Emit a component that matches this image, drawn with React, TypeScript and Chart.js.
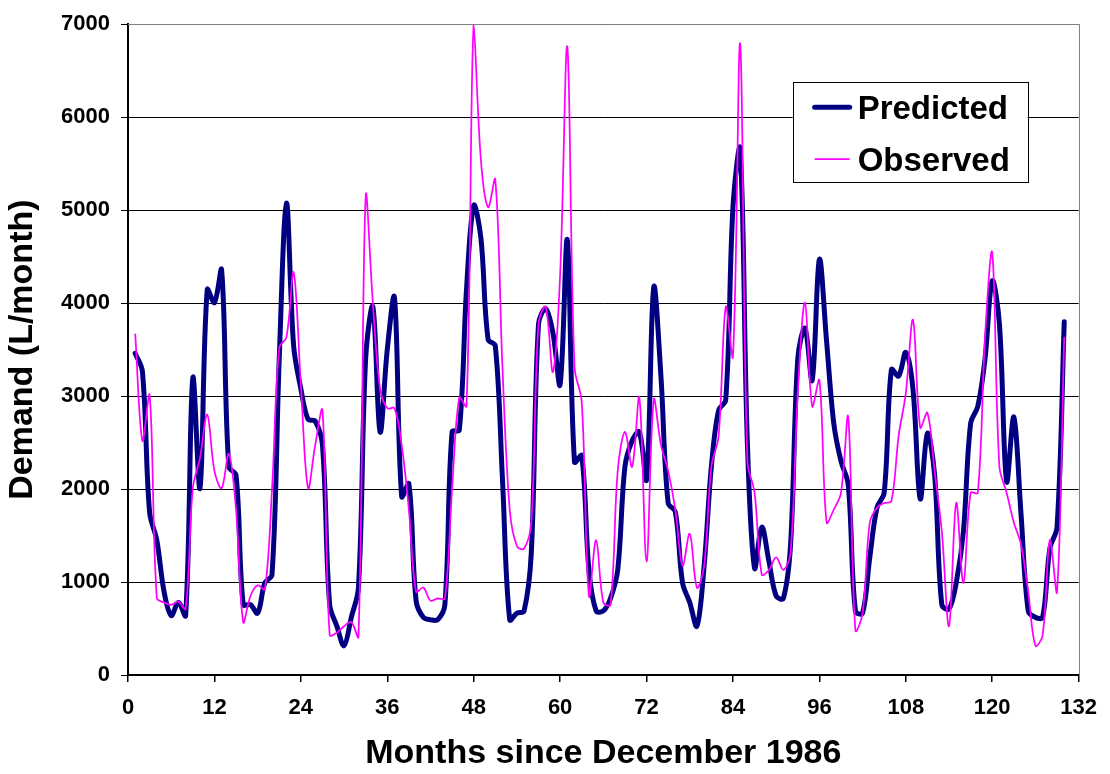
import React, { useEffect, useRef } from "react";
import { Chart, registerables } from "chart.js";

Chart.register(...registerables);

// Predicted demand, months 1..130 (L/month)
const predicted: number[] = [
  3460, 3265, 1750, 1450, 900, 640, 780, 640, 3195, 2010,
  4145, 4005, 4355, 2240, 2150, 757, 757, 665, 990, 1080,
  3400, 5075, 3540, 3080, 2750, 2730, 2475, 757, 525, 315,
  617, 940, 3400, 3960, 2615, 3500, 4060, 1920, 2055, 800,
  620, 595, 595, 755, 2615, 2635, 4145, 5050, 4700, 3610,
  3540, 2100, 595, 665, 690, 1315, 3775, 3940, 3680, 3125,
  4680, 2290, 2360, 1130, 690, 690, 825, 1130, 2240, 2520,
  2615, 2105, 4170, 3215, 1850, 1755, 990, 780, 525, 1175,
  2240, 2845, 2960, 5030, 5655, 2500, 1150, 1590, 1220, 850,
  825, 1405, 3400, 3730, 3170, 4470, 3590, 2705, 2300, 2050,
  690, 665, 1265, 1800, 1960, 3285, 3215, 3470, 3070, 1895,
  2600, 2150, 757, 710, 990, 1545, 2705, 2890, 3400, 4240,
  3775, 2080, 2775, 1730, 690, 620, 620, 1360, 1590, 3800,
];

// Observed demand, months 1..130 (L/month)
const observed: number[] = [
  3670, 2520, 3010, 830, 780, 755, 790, 710, 2010, 2335,
  2800, 2195, 2010, 2380, 1780, 570, 850, 965, 920, 2000,
  3520, 3635, 4330, 3125, 2010, 2475, 2845, 430, 455, 525,
  570, 410, 5145, 4000, 3080, 2870, 2870, 2475, 1780, 895,
  940, 800, 825, 825, 2000, 2985, 2890, 7000, 5540, 5030,
  5330, 3300, 1780, 1385, 1360, 1640, 3775, 3960, 3260, 4300,
  6755, 3310, 2940, 850, 1450, 780, 755, 2195, 2615, 2240,
  2985, 1220, 2960, 2475, 2195, 1780, 1175, 1520, 940, 1175,
  2240, 2565, 3960, 3425, 6790, 2300, 1960, 1080, 1130, 1265,
  1130, 1315, 3030, 4005, 2890, 3170, 1640, 1780, 1960, 2775,
  480, 665, 1640, 1800, 1850, 1870, 2570, 3030, 3820, 2660,
  2820, 2195, 1545, 525, 1850, 990, 1960, 1960, 3635, 4540,
  2240, 1960, 1640, 1405, 895, 315, 430, 1450, 895, 3635,
];

const months: number[] = predicted.map((_, i) => i + 1);

const seriesLabels = ["Predicted", "Observed"];
const seriesColors = ["#000080", "#FF00FF"];
const xTitle = "Months since December 1986";
const yTitle = "Demand (L/month)";

const FONT = "'Liberation Sans', Arial, Helvetica, sans-serif";

const legendBoxPlugin = {
  id: "legendBox",
  afterDraw(chart: any) {
    const { ctx, chartArea } = chart;
    ctx.save();
    // plot-area border (top and right, grey)
    ctx.strokeStyle = "#808080";
    ctx.lineWidth = 1;
    ctx.beginPath();
    ctx.moveTo(chartArea.left, Math.round(chartArea.top) + 0.5);
    ctx.lineTo(chartArea.right, Math.round(chartArea.top) + 0.5);
    ctx.moveTo(Math.round(chartArea.right) + 0.5, chartArea.top);
    ctx.lineTo(Math.round(chartArea.right) + 0.5, chartArea.bottom);
    ctx.stroke();

    // legend box
    const w = 235;
    const h = 100;
    const right = chartArea.right - 51;
    const left = right - w;
    const top = chartArea.top + 58;
    ctx.fillStyle = "#ffffff";
    ctx.fillRect(left, top, w, h);
    ctx.strokeStyle = "#000000";
    ctx.lineWidth = 1;
    ctx.strokeRect(Math.round(left) + 0.5, Math.round(top) + 0.5, w, h);

    const rows = [top + 25, top + 77];
    const widths = [5, 1.75];
    chart.data.datasets.forEach((ds: any) => {
      const idx = seriesLabels.indexOf(ds.label);
      const y = rows[idx];
      ctx.strokeStyle = ds.borderColor;
      ctx.lineWidth = widths[idx];
      ctx.lineCap = idx === 0 ? "round" : "butt";
      ctx.beginPath();
      ctx.moveTo(left + 22, y);
      ctx.lineTo(left + 57, y);
      ctx.stroke();
      ctx.fillStyle = "#000000";
      ctx.font = `bold 33px ${FONT}`;
      ctx.textAlign = "left";
      ctx.textBaseline = "alphabetic";
      ctx.fillText(ds.label, left + 65, y + 12);
    });
    ctx.restore();
  },
};

export default function App() {
  const canvasRef = useRef<HTMLCanvasElement | null>(null);

  useEffect(() => {
    if (!canvasRef.current) return;
    const chart = new Chart(canvasRef.current, {
      type: "line",
      data: {
        datasets: [
          {
            label: seriesLabels[0],
            data: months.map((m, i) => ({ x: m, y: predicted[i] })),
            borderColor: seriesColors[0],
            backgroundColor: seriesColors[0],
            borderWidth: 5,
            pointRadius: 0,
            tension: 0.35,
            borderJoinStyle: "round",
            borderCapStyle: "round",
            order: 1,
          },
          {
            label: seriesLabels[1],
            data: months.map((m, i) => ({ x: m, y: observed[i] })),
            borderColor: seriesColors[1],
            backgroundColor: seriesColors[1],
            borderWidth: 1.75,
            pointRadius: 0,
            tension: 0.35,
            order: 0,
          },
        ],
      },
      options: {
        animation: false,
        responsive: false,
        maintainAspectRatio: false,
        layout: { padding: { top: 20, right: 29, left: 0, bottom: 0 } },
        plugins: {
          legend: { display: false },
          tooltip: { enabled: false },
        },
        scales: {
          x: {
            type: "linear",
            min: 0,
            max: 132,
            ticks: {
              stepSize: 12,
              color: "#000",
              padding: 13,
              maxRotation: 0,
              font: { family: FONT, size: 22, weight: "bold" },
              callback: (v: any) => String(v),
            },
            grid: {
              drawOnChartArea: false,
              drawTicks: true,
              tickLength: 7,
              color: "#000",
              lineWidth: 1.5,
            },
            border: { display: true, color: "#000", width: 2 },
            title: {
              display: true,
              text: xTitle,
              color: "#000",
              font: { family: FONT, size: 34, weight: "bold" },
              padding: { top: 0, bottom: 0 },
            },
            afterFit: (scale: any) => {
              scale.height = 99;
            },
          },
          y: {
            min: 0,
            max: 7000,
            ticks: {
              stepSize: 1000,
              color: "#000",
              padding: 11,
              font: { family: FONT, size: 22, weight: "bold" },
              callback: (v: any) => String(v),
            },
            grid: {
              drawTicks: true,
              tickLength: 7,
              color: "#000",
              lineWidth: 1,
            },
            border: { display: true, color: "#000", width: 2 },
            title: {
              display: true,
              text: yTitle,
              color: "#000",
              font: { family: FONT, size: 34, weight: "bold" },
              padding: { top: 2, bottom: 0 },
            },
            afterFit: (scale: any) => {
              scale.width = 128;
            },
          },
        },
      },
      plugins: [legendBoxPlugin],
    });
    return () => chart.destroy();
  }, []);

  return (
    <div style={{ position: "fixed", left: 0, top: 0, width: 1110, height: 774, background: "#fff" }}>
      <canvas ref={canvasRef} width={1110} height={774} style={{ width: 1110, height: 774, display: "block" }} />
    </div>
  );
}
